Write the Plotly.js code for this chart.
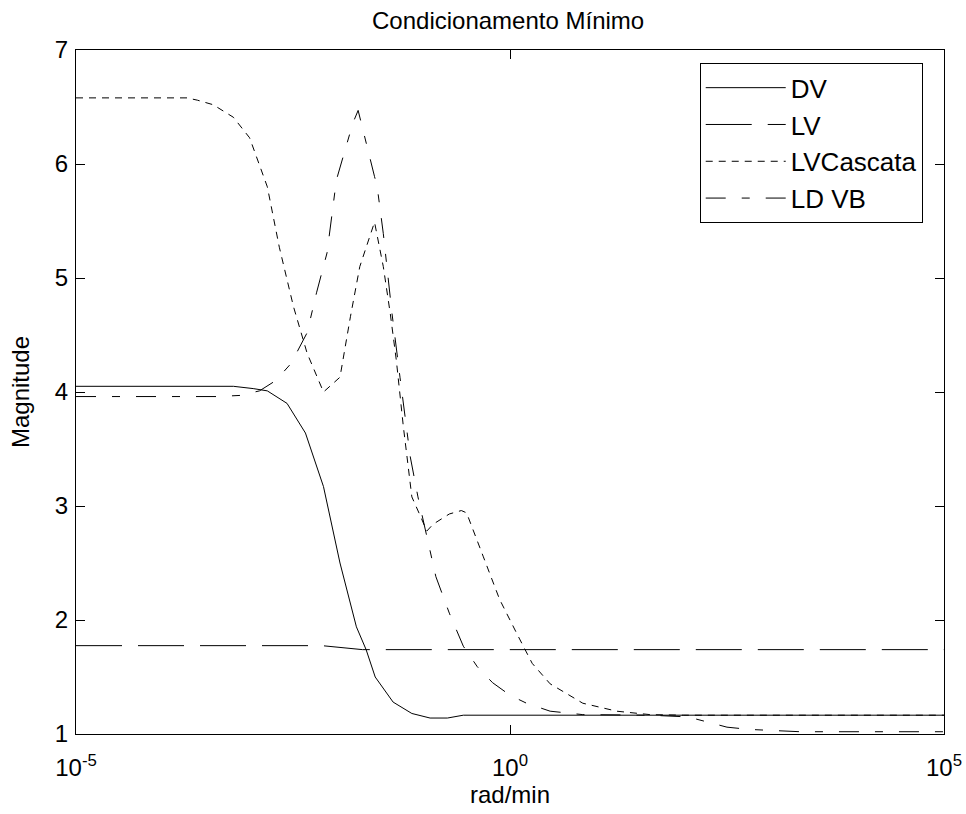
<!DOCTYPE html>
<html>
<head>
<meta charset="utf-8">
<script src="https://cdn.plot.ly/plotly-3.0.1.min.js"></script>
<style>html,body{margin:0;padding:0;background:#fff;}#chart{width:966px;height:814px;}</style>
</head>
<body>
<div id="chart"></div>
<script>
// Frequencies (rad/min) and magnitudes
const dvW   = [1e-5, 6.5e-4, 1.1e-3, 1.6e-3, 2.7e-3, 4.4e-3, 7.1e-3, 0.011, 0.017, 0.022, 0.028, 0.045, 0.074, 0.12, 0.19, 0.29, 1e5];
const dvMag = [4.05, 4.05,   4.03,   4.01,   3.90,   3.64,   3.17,   2.50,  1.94,  1.74,  1.50,  1.28,  1.18,  1.14, 1.14, 1.165, 1.165];

const lvW   = [1e-5, 6.8e-3, 0.020, 1e5];
const lvMag = [1.775, 1.775, 1.74, 1.74];

const lvcW   = [1e-5, 1.9e-4, 2.5e-4, 3.8e-4, 6.5e-4, 1e-3, 1.6e-3, 2.2e-3, 3.2e-3, 4.6e-3, 7.1e-3, 0.011, 0.0145, 0.0186, 0.0275, 0.0347, 0.0417, 0.049, 0.059, 0.074, 0.093, 0.11, 0.13, 0.20, 0.275, 0.316, 0.49, 0.76, 1.2, 1.8, 2.9, 6.9, 17, 41, 100, 1e5];
const lvcMag = [6.58, 6.58,   6.56,   6.52,   6.41,   6.23, 5.80,   5.27,   4.75,   4.34,   4.00,   4.13,  4.66,   5.10,   5.49,   5.10,   4.69,   4.28,  3.70,  3.08,  2.91,  2.78, 2.84, 2.93, 2.96,  2.94,  2.56, 2.18, 1.88, 1.62, 1.44, 1.27, 1.20, 1.17, 1.165, 1.165];

const ldvbW   = [1e-5, 4.2e-4, 7.8e-4, 1.3e-3, 2.0e-3, 3.0e-3, 4.6e-3, 5.9e-3, 7.8e-3, 0.010, 0.0155, 0.0178, 0.0275, 0.0295, 0.0347, 0.0437, 0.054, 0.071, 0.087, 0.11, 0.14, 0.20, 0.29, 0.42, 0.63, 1.0, 1.55, 2.9, 6.9, 41, 112, 200, 316, 575, 1020, 2200, 1e5];
const ldvbMag = [3.96, 3.96,   3.97,   4.01,   4.10,   4.25,   4.52,   4.87,   5.22,   5.86,  6.36,   6.47,   5.89,   5.80,   5.39,   4.69,   4.13,  3.43,  3.08,  2.73, 2.38, 2.06, 1.77, 1.59, 1.45, 1.34, 1.27, 1.20, 1.17, 1.165, 1.15, 1.10, 1.06, 1.04, 1.03, 1.02, 1.02];

const seriesNames = ['DV', 'LV', 'LVCascata', 'LD VB'];
const xTickVals = [1e-5, 1, 1e5];
const xTickText = ['10<sup>-5</sup>', '10<sup>0</sup>', '10<sup>5</sup>'];
const yTickVals = [1, 2, 3, 4, 5, 6, 7];

const FONT = 'Liberation Sans, Arial, Helvetica, sans-serif';
const dashes = ['solid', '46px,16px', '7px,6px', '20px,16px,8px,16px'];
const xs = [dvW, lvW, lvcW, ldvbW];
const ys = [dvMag, lvMag, lvcMag, ldvbMag];

const traces = seriesNames.map((n, i) => ({
  x: xs[i], y: ys[i], name: n, type: 'scatter', mode: 'lines',
  legendgroup: 'g' + i,
  line: {color: '#000', width: 1, dash: dashes[i]}
}));

const layout = {
  width: 966, height: 814,
  margin: {l: 76, r: 22, t: 50, b: 80},
  paper_bgcolor: '#fff', plot_bgcolor: '#fff',
  font: {family: FONT, size: 24, color: '#000'},
  title: {text: 'Condicionamento Mínimo', font: {family: FONT, size: 24, color: '#000'}, x: 0.526, xanchor: 'center', y: 0.975, yanchor: 'middle'},
  xaxis: {
    type: 'log', range: [-5, 5],
    tickvals: xTickVals, ticktext: xTickText,
    ticks: 'inside', ticklen: 9, tickcolor: '#000',
    showline: true, linecolor: '#000', linewidth: 1, mirror: 'ticks',
    showgrid: false, zeroline: false,
    tickfont: {family: FONT, size: 24},
    ticklabelstandoff: 12,
    title: {text: 'rad/min', font: {family: FONT, size: 24}, standoff: 6}
  },
  yaxis: {
    range: [1, 7], tickvals: yTickVals,
    ticks: 'inside', ticklen: 9, tickcolor: '#000',
    showline: true, linecolor: '#000', linewidth: 1, mirror: 'ticks',
    showgrid: false, zeroline: false,
    tickfont: {family: FONT, size: 24},
    ticklabelstandoff: 2,
    title: {text: 'Magnitude', font: {family: FONT, size: 24}, standoff: 18}
  },
  showlegend: true,
  legend: {
    x: 0.9755, xanchor: 'right', y: 0.9806, yanchor: 'top',
    bgcolor: '#fff', bordercolor: '#000', borderwidth: 1,
    font: {family: FONT, size: 26, color: '#000'},
    traceorder: 'grouped', tracegroupgap: 0, itemwidth: 80
  }
};

Plotly.newPlot('chart', traces, layout, {displayModeBar: false, staticPlot: true});
</script>
</body>
</html>
